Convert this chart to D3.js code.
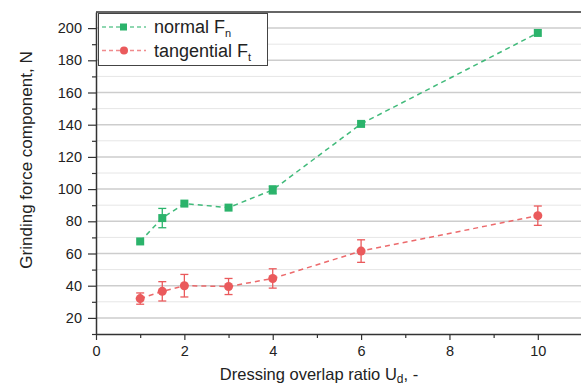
<!DOCTYPE html>
<html><head><meta charset="utf-8">
<script src="https://cdn.jsdelivr.net/npm/d3@7"></script>
<style>body{margin:0;background:#fff}svg{display:block;font-family:"Liberation Sans",Arial,sans-serif}</style>
</head><body><svg id="c" width="581" height="385"></svg>
<script>
const xVals = [1, 1.5, 2, 3, 4, 6, 10];
const normalF = [67.5, 82, 91, 88.5, 99.5, 140.5, 197];
const normalErr = [1, 6, 1, 1, 2.5, 1, 1];
const tangentialF = [32, 36.5, 40, 39.5, 44.5, 61.5, 83.5];
const tangentialErr = [3.5, 6, 7, 5, 6, 7, 6];
const xTicks = [0, 2, 4, 6, 8, 10];
const yTicks = [20, 40, 60, 80, 100, 120, 140, 160, 180, 200];

const svg = d3.select("#c");
const m = {l: 96, t: 12, r: 582, b: 334};
const x = d3.scaleLinear().domain([0, 11]).range([m.l, m.r]);
const y = d3.scaleLinear().domain([10, 210]).range([m.b, m.t]);
const green = "#2bb36b", red = "#ea5a5c";

// gridlines
const minorY = d3.range(30, 210, 20);
svg.append("g").selectAll("line").data(minorY).join("line")
  .attr("x1", m.l).attr("x2", m.r).attr("y1", d => y(d)).attr("y2", d => y(d))
  .attr("stroke", "#e6e6e6").attr("stroke-width", 1);
svg.append("g").selectAll("line").data(yTicks).join("line")
  .attr("x1", m.l).attr("x2", m.r).attr("y1", d => y(d)).attr("y2", d => y(d))
  .attr("stroke", "#cdcdcd").attr("stroke-width", 1.5);

// frame top
svg.append("line").attr("x1", m.l).attr("x2", m.r).attr("y1", m.t).attr("y2", m.t)
  .attr("stroke", "#333").attr("stroke-width", 1.5);

// axes
svg.append("g").attr("transform", `translate(0,${m.b})`)
  .call(d3.axisBottom(x).tickValues(xTicks).tickSize(6).tickPadding(6).tickSizeOuter(0));
svg.append("g").attr("transform", `translate(0,${m.b})`)
  .call(d3.axisBottom(x).tickValues([1,3,5,7,9]).tickSize(4).tickFormat("").tickSizeOuter(0))
  .select(".domain").remove();
svg.append("g").attr("transform", `translate(${m.l},0)`)
  .call(d3.axisLeft(y).tickValues(yTicks).tickSize(8).tickPadding(6).tickSizeOuter(0));
svg.append("g").attr("transform", `translate(${m.l},0)`)
  .call(d3.axisLeft(y).tickValues([10].concat(minorY)).tickSize(4).tickFormat("").tickSizeOuter(0))
  .select(".domain").remove();
svg.selectAll(".domain").attr("stroke", "#333").attr("stroke-width", 1.5);
svg.selectAll(".tick line").attr("stroke", "#333").attr("stroke-width", 1.2);
svg.selectAll(".tick text").attr("font-size", 14.5).attr("fill", "#222")
  .attr("font-family", "Liberation Sans, Arial, sans-serif");

// axis titles
svg.append("text").attr("transform", "translate(32,160) rotate(-90)")
  .attr("text-anchor", "middle").attr("font-size", 17).attr("fill", "#222")
  .text("Grinding force component, N");
const xt = svg.append("text").attr("x", 319).attr("y", 380).attr("text-anchor", "middle")
  .attr("font-size", 16.5).attr("fill", "#222");
xt.append("tspan").text("Dressing overlap ratio U");
xt.append("tspan").attr("font-size", 12).attr("dy", 3).text("d");
xt.append("tspan").attr("dy", -3).text(", -");

function series(vals, errs, color, shape) {
  const data = xVals.map((d, i) => ({x: d, v: vals[i], e: errs[i]}));
  const g = svg.append("g");
  g.append("path").datum(data)
    .attr("d", d3.line().x(d => x(d.x)).y(d => y(d.v)))
    .attr("fill", "none").attr("stroke", color).attr("stroke-width", 1.5)
    .attr("stroke-dasharray", "5,4").attr("stroke-opacity", 0.9);
  const eb = g.selectAll(".eb").data(data.filter(d => d.e > 1.5)).join("g");
  eb.append("line").attr("x1", d => x(d.x)).attr("x2", d => x(d.x))
    .attr("y1", d => y(d.v + d.e)).attr("y2", d => y(d.v - d.e)).attr("stroke", color).attr("stroke-width", 1.3);
  eb.append("line").attr("x1", d => x(d.x) - 4).attr("x2", d => x(d.x) + 4)
    .attr("y1", d => y(d.v + d.e)).attr("y2", d => y(d.v + d.e)).attr("stroke", color).attr("stroke-width", 1.3);
  eb.append("line").attr("x1", d => x(d.x) - 4).attr("x2", d => x(d.x) + 4)
    .attr("y1", d => y(d.v - d.e)).attr("y2", d => y(d.v - d.e)).attr("stroke", color).attr("stroke-width", 1.3);
  if (shape === "square") {
    g.selectAll("rect").data(data).join("rect")
      .attr("x", d => x(d.x) - 4).attr("y", d => y(d.v) - 4).attr("width", 8).attr("height", 8).attr("fill", color);
  } else {
    g.selectAll("circle").data(data).join("circle")
      .attr("cx", d => x(d.x)).attr("cy", d => y(d.v)).attr("r", 4.5).attr("fill", color);
  }
}
series(normalF, normalErr, green, "square");
series(tangentialF, tangentialErr, red, "circle");

// legend
const lg = svg.append("g");
lg.append("rect").attr("x", 98.5).attr("y", 13.5).attr("width", 169).attr("height", 52)
  .attr("fill", "#fff").attr("stroke", "#444").attr("stroke-width", 1);
const items = [{name: "normal F", sub: "n", color: green, shape: "square"},
               {name: "tangential F", sub: "t", color: red, shape: "circle"}];
items.forEach((it, i) => {
  const cy = 27 + i * 23.5;
  lg.append("line").attr("x1", 102).attr("x2", 146).attr("y1", cy).attr("y2", cy)
    .attr("stroke", it.color).attr("stroke-width", 1.3).attr("stroke-dasharray", "4,3").attr("stroke-opacity", 0.7);
  if (it.shape === "square") lg.append("rect").attr("x", 120).attr("y", cy - 3.5).attr("width", 7).attr("height", 7).attr("fill", it.color);
  else lg.append("circle").attr("cx", 124).attr("cy", cy).attr("r", 4).attr("fill", it.color);
  const t = lg.append("text").attr("x", 154).attr("y", cy + 6).attr("font-size", 18).attr("fill", "#222");
  t.append("tspan").text(it.name);
  t.append("tspan").attr("font-size", 11).attr("dy", 4).text(it.sub);
});
</script></body></html>
